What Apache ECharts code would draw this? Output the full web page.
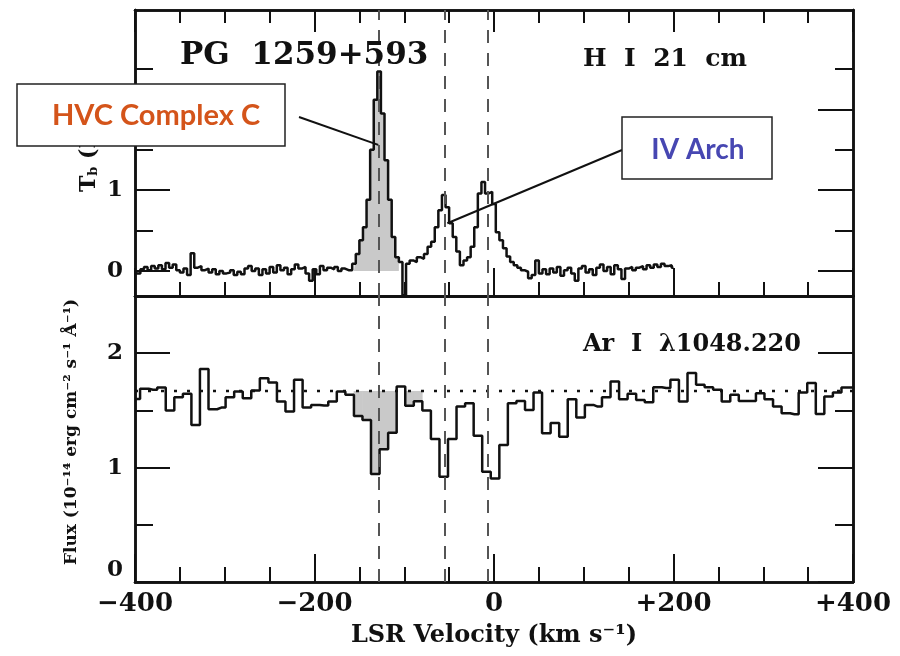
<!DOCTYPE html>
<html><head><meta charset="utf-8">
<script src="https://cdn.jsdelivr.net/npm/echarts@6/dist/echarts.min.js"></script>
<style>html,body{margin:0;padding:0;background:#fff}#c{width:900px;height:656px}</style>
</head><body><div id="c"></div>
<script>
// ---------- data ----------
const hiVel = [
-400,-396,-392,-388,-384,-380,-376,-372,-368,-364,
-360,-356,-352,-348,-344,-340,-336,-332,-328,-324,
-320,-316,-312,-308,-304,-300,-296,-292,-288,-284,
-280,-276,-272,-268,-264,-260,-256,-252,-248,-244,
-240,-236,-232,-228,-224,-220,-216,-212,-208,-204,
-200,-196,-192,-188,-184,-180,-176,-172,-168,-164,
-160,-156,-152,-148,-144,-140,-136,-132,-128,-124,
-120,-116,-112,-108,-104,-100,-96,-92,-88,-84,
-80,-76,-72,-68,-64,-60,-56,-52,-48,-44,
-40,-36,-32,-28,-24,-20,-16,-12,-8,-4,
0,4,8,12,16,20,24,28,32,36,
40,44,48,52,56,60,64,68,72,76,
80,84,88,92,96,100,104,108,112,116,
120,124,128,132,136,140,144,148,152,156,
160,164,168,172,176,180,184,188,192,196,
200];
const hiTb = [
0.00,-0.03,0.02,0.05,0.01,0.06,0.03,0.07,0.02,0.10,
0.04,0.08,0.01,-0.02,0.03,-0.05,0.22,0.04,0.06,0.01,
0.03,-0.02,0.02,-0.04,0.00,-0.03,-0.02,0.01,-0.05,-0.01,
-0.04,0.03,0.06,0.00,0.03,-0.05,0.02,-0.03,0.05,-0.02,
0.07,0.01,0.04,-0.04,0.02,0.08,0.03,0.05,-0.03,-0.12,
0.02,-0.04,0.06,0.01,0.04,0.02,0.05,0.00,0.03,0.01,
0.01,0.09,0.21,0.38,0.54,0.88,1.50,2.12,2.47,1.95,
1.37,0.88,0.42,0.17,0.11,-0.30,0.09,0.13,0.11,0.17,
0.15,0.21,0.30,0.36,0.54,0.75,0.94,0.79,0.59,0.42,
0.24,0.07,0.13,0.17,0.30,0.54,0.96,1.10,0.96,0.98,
0.83,0.48,0.38,0.28,0.18,0.11,0.07,0.04,0.01,-0.01,
-0.09,-0.05,0.13,-0.03,0.02,-0.04,0.03,-0.02,0.05,-0.06,
0.01,0.04,-0.03,-0.12,0.03,0.06,-0.02,0.02,-0.05,0.04,
0.08,0.00,0.05,-0.04,0.07,0.02,-0.10,0.03,0.05,0.01,
0.04,0.06,0.02,0.07,0.04,0.08,0.05,0.09,0.06,0.07,
0.04];
const hiFillRange = [-153, -105];

const arVel = [
-399.1,-389.6,-380.0,-370.5,-361.0,-351.4,-341.9,-332.4,-322.9,-313.3,
-303.8,-294.3,-284.7,-275.2,-265.7,-256.1,-246.6,-237.1,-227.6,-218.0,
-208.5,-199.0,-189.4,-179.9,-170.4,-160.8,-151.3,-141.8,-132.3,-122.7,
-113.2,-103.7,-94.1,-84.6,-75.1,-65.5,-56.0,-46.5,-37.0,-27.4,
-17.9,-8.4,1.2,10.7,20.2,29.8,39.3,48.8,58.3,67.9,
77.4,86.9,96.5,106.0,115.5,125.1,134.6,144.1,153.6,163.2,
172.7,182.2,191.8,201.3,210.8,220.4,229.9,239.4,248.9,258.5,
268.0,277.5,287.1,296.6,306.1,315.7,325.2,334.7,344.2,353.8,
363.3,372.8,382.4,391.9,401.4];
const arFlux = [
1.60,1.69,1.68,1.70,1.50,1.615,1.645,1.373,1.861,1.51,
1.525,1.615,1.665,1.607,1.674,1.782,1.744,1.577,1.49,1.768,
1.525,1.548,1.542,1.577,1.665,1.636,1.452,1.417,0.943,1.16,
1.305,1.71,1.54,1.58,1.50,1.25,0.92,1.25,1.533,1.563,
1.279,0.963,0.905,1.197,1.563,1.583,1.504,1.656,1.30,1.39,
1.27,1.598,1.437,1.548,1.533,1.616,1.753,1.598,1.645,1.592,
1.572,1.703,1.695,1.768,1.577,1.826,1.724,1.703,1.68,1.577,
1.636,1.583,1.583,1.651,1.598,1.533,1.475,1.466,1.656,1.739,
1.469,1.621,1.656,1.70,1.70];
const arContinuum = 1.67;
const arFillRange = [-155, -80];

const markerVel = [-128.5, -54.5, -7];
const xMajor = [-400, -200, 0, 200, 400];
const xMinor = [-350, -300, -250, -150, -100, -50, 50, 100, 150, 250, 300, 350];
const topYMajor = [0, 1, 2];
const topYMinor = [0.5, 1.5, 2.5];
const botYMajor = [0, 1, 2];
const botYMinor = [0.5, 1.5];
const hvcPointer = [-129, 1.56];
const ivPointer = [-52, 0.59];

// ---------- chart ----------
const INK = '#111';
const GREY = '#c9c9c9';
const SERIF = '"DejaVu Serif", "Liberation Serif", serif';
const chart = echarts.init(document.getElementById('c'), null, {renderer: 'canvas'});

function xAx(grid, position, ticks, len, label) {
  return {type: 'value', gridIndex: grid, position: position, min: -400, max: 400,
    axisLine: {show: true, onZero: false, lineStyle: {color: INK, width: 2.5}},
    axisTick: {show: ticks.length > 0, inside: true, length: len, customValues: ticks.length ? ticks : undefined,
      lineStyle: {color: INK, width: 2}},
    axisLabel: label || {show: false},
    splitLine: {show: false}, minorTick: {show: false}, axisPointer: {show: false}};
}
function yAx(grid, position, range, ticks, len, label) {
  return {type: 'value', gridIndex: grid, position: position, min: range[0], max: range[1],
    axisLine: {show: true, onZero: false, lineStyle: {color: INK, width: 2.5}},
    axisTick: {show: ticks.length > 0, inside: true, length: len, customValues: ticks,
      lineStyle: {color: INK, width: 2}},
    axisLabel: label || {show: false},
    splitLine: {show: false}, minorTick: {show: false}, axisPointer: {show: false}};
}
const yLab = (vals, va) => ({show: true, customValues: vals, margin: 12, color: INK,
  fontFamily: SERIF, fontWeight: 'bold', fontSize: 23, verticalAlign: va || 'middle'});
const topRange = [-0.31, 3.23];
const botRange = [0, 2.5];

const xAxes = [
  xAx(0, 'bottom', xMajor, 28),
  xAx(0, 'bottom', xMinor, 14),
  xAx(0, 'top', xMajor, 22),
  xAx(0, 'top', xMinor, 13),
  xAx(1, 'bottom', xMajor, 28, {show: true, customValues: xMajor, margin: 9, color: INK,
    fontFamily: SERIF, fontWeight: 'bold', fontSize: 26,
    formatter: v => v > 0 ? '+' + v : (v < 0 ? '\u2212' + (-v) : '0')}),
  xAx(1, 'bottom', xMinor, 15),
  xAx(1, 'top', [], 0)
];
const yAxes = [
  yAx(0, 'left', topRange, topYMajor, 35, yLab(topYMajor)),
  yAx(0, 'left', topRange, topYMinor, 18),
  yAx(0, 'right', topRange, topYMajor, 35),
  yAx(0, 'right', topRange, topYMinor, 18),
  yAx(1, 'left', botRange, botYMajor, 35, yLab([1, 2])),
  yAx(1, 'left', botRange, botYMinor, 18, yLab([0], 'bottom')),
  yAx(1, 'right', botRange, botYMajor, 35),
  yAx(1, 'right', botRange, botYMinor, 18)
];

const inHi = v => v >= hiFillRange[0] && v <= hiFillRange[1];
const inAr = v => v >= arFillRange[0] && v <= arFillRange[1];
const markLine = {
  silent: true, symbol: ['none', 'none'], label: {show: false}, animation: false,
  lineStyle: {type: [13, 10], color: '#555', width: 2},
  data: markerVel.map(v => ({xAxis: v}))
};

// absorption bins (flux below continuum) inside the shaded range: [leftEdge, rightEdge, flux]
const arFillBins = [];
arVel.forEach((v, i) => {
  if (inAr(v) && arFlux[i] < arContinuum) {
    const l = (arVel[i - 1] + v) / 2, r = (v + arVel[i + 1]) / 2;
    arFillBins.push([l, r, arFlux[i]]);
  }
});

const series = [
  {type: 'line', xAxisIndex: 0, yAxisIndex: 0, step: 'middle', symbol: 'none', z: 1, silent: true,
    lineStyle: {width: 0, opacity: 0}, areaStyle: {color: GREY, opacity: 1, origin: 'auto'},
    data: hiVel.map((v, i) => [v, inHi(v) ? hiTb[i] : 0])},
  {type: 'line', xAxisIndex: 0, yAxisIndex: 0, step: 'middle', symbol: 'none', z: 3,
    lineStyle: {color: INK, width: 2.5}, data: hiVel.map((v, i) => [v, hiTb[i]]), markLine: markLine},
  {type: 'custom', xAxisIndex: 4, yAxisIndex: 4, z: 1, silent: true,
    encode: {x: [0, 1], y: 2},
    data: arFillBins,
    renderItem: function (params, api) {
      const a = api.coord([api.value(0), arContinuum]);
      const b = api.coord([api.value(1), api.value(2)]);
      return {type: 'rect', shape: {x: a[0] - 0.3, y: a[1], width: b[0] - a[0] + 0.6, height: b[1] - a[1]},
        style: {fill: GREY}};
    }},
  {type: 'line', xAxisIndex: 4, yAxisIndex: 4, symbol: 'none', z: 2,
    lineStyle: {color: INK, width: 2.5, type: [3, 10]},
    data: [[-400, arContinuum], [400, arContinuum]]},
  {type: 'line', xAxisIndex: 4, yAxisIndex: 4, step: 'middle', symbol: 'none', z: 3,
    lineStyle: {color: INK, width: 2.5}, data: arVel.map((v, i) => [v, arFlux[i]]), markLine: markLine}
];

const txt = (x, y, text, size) => ({type: 'text', x: x, y: y, z: 50,
  style: {text: text, fill: INK, fontFamily: SERIF, fontWeight: 'bold', fontSize: size,
    align: 'left', textAlign: 'left', verticalAlign: 'middle', textVerticalAlign: 'middle'}});

const option = {
  animation: false,
  backgroundColor: '#fff',
  textStyle: {fontFamily: SERIF},
  grid: [
    {left: 135, right: 47, top: 10, height: 286, outerBoundsMode: 'none', containLabel: false},
    {left: 135, right: 47, top: 296, height: 286, outerBoundsMode: 'none', containLabel: false}
  ],
  xAxis: xAxes,
  yAxis: yAxes,
  series: series
};
chart.setOption(option);

const p1 = chart.convertToPixel({seriesIndex: 1}, hvcPointer);
const p2 = chart.convertToPixel({seriesIndex: 1}, ivPointer);

const graphic = [
  txt(180, 56, 'PG  1259+593', 31),
  txt(583, 59, 'H  I  21  cm', 25),
  txt(583, 345, 'Ar  I  \u03bb1048.220', 24),
  {type: 'text', x: 494, y: 636, z: 50, style: {text: 'LSR Velocity (km s\u207b\u00b9)', fill: INK,
    fontFamily: SERIF, fontWeight: 'bold', fontSize: 24, align: 'center', textAlign: 'center',
    verticalAlign: 'middle', textVerticalAlign: 'middle'}},
  {type: 'text', x: 89, y: 192, rotation: Math.PI / 2, z: 50, style: {
    text: '{t|T}{s|b}{t| (K)}', fill: INK, align: 'left', textAlign: 'left',
    verticalAlign: 'middle', textVerticalAlign: 'middle',
    rich: {t: {fontFamily: SERIF, fontWeight: 'bold', fontSize: 22, fill: INK},
           s: {fontFamily: SERIF, fontWeight: 'bold', fontSize: 13, fill: INK, padding: [10, 0, 0, 0]}}}},
  {type: 'text', x: 72, y: 432, rotation: Math.PI / 2, z: 50, style: {
    text: 'Flux (10\u207b\u00b9\u2074 erg cm\u207b\u00b2 s\u207b\u00b9 \u00c5\u207b\u00b9)', fill: INK,
    fontFamily: SERIF, fontWeight: 'bold', fontSize: 17, align: 'center', textAlign: 'center',
    verticalAlign: 'middle', textVerticalAlign: 'middle'}},
  {type: 'line', z: 60, shape: {x1: 299, y1: 117, x2: p1[0], y2: p1[1]}, style: {stroke: INK, lineWidth: 2}},
  {type: 'line', z: 60, shape: {x1: 622, y1: 150, x2: p2[0], y2: p2[1]}, style: {stroke: INK, lineWidth: 2}},
  {type: 'rect', z: 100, shape: {x: 17, y: 84, width: 268, height: 62}, style: {fill: '#fff', stroke: '#222', lineWidth: 1.5}},
  {type: 'text', z: 101, x: 156, y: 116, style: {text: 'HVC Complex C', fill: '#D4541A', fontFamily: 'Lato, "Open Sans", sans-serif',
    fontWeight: 'bold', fontSize: 29, align: 'center', textAlign: 'center', verticalAlign: 'middle', textVerticalAlign: 'middle'}},
  {type: 'rect', z: 100, shape: {x: 622, y: 117, width: 150, height: 62}, style: {fill: '#fff', stroke: '#222', lineWidth: 1.5}},
  {type: 'text', z: 101, x: 698, y: 150, style: {text: 'IV Arch', fill: '#4747B2', fontFamily: 'Lato, "Open Sans", sans-serif',
    fontWeight: 'bold', fontSize: 28, align: 'center', textAlign: 'center', verticalAlign: 'middle', textVerticalAlign: 'middle'}}
];
chart.setOption({graphic: graphic});
</script></body></html>
